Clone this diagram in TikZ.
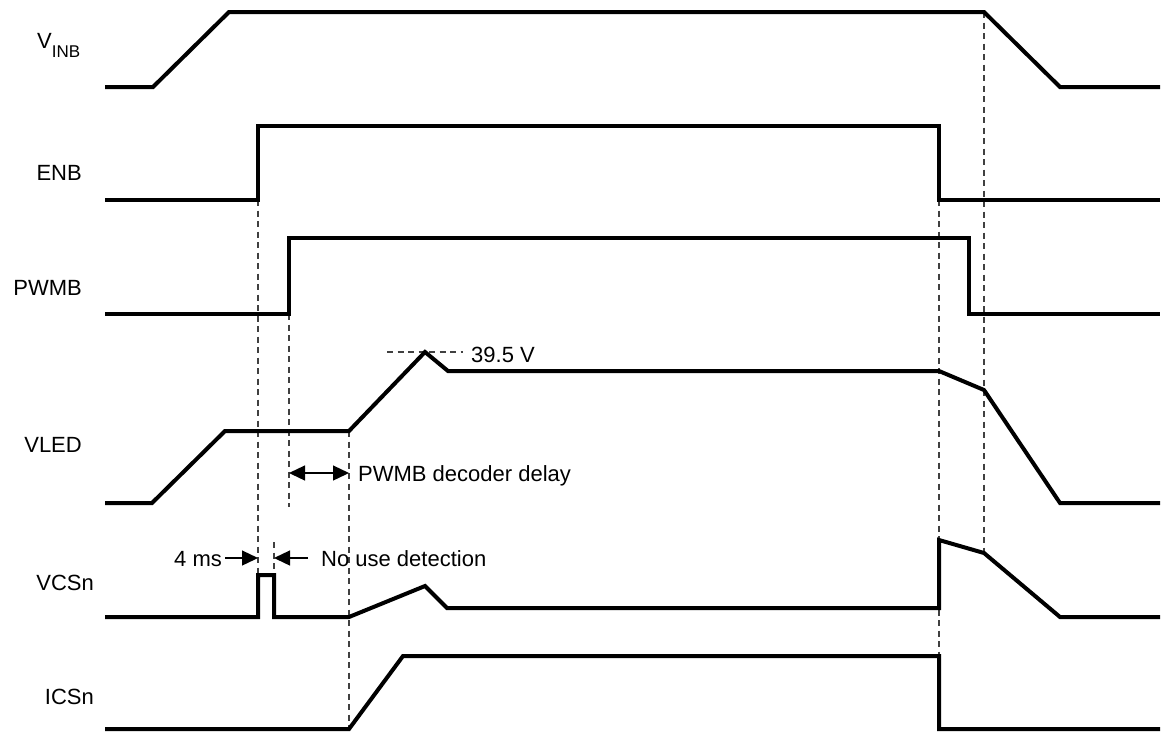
\documentclass[tikz,border=0pt]{standalone}
\usepackage{fontspec}
\setmainfont{Liberation Sans}
\usetikzlibrary{arrows.meta}
\begin{document}
\begin{tikzpicture}[x=1pt,y=-1pt,
  sig/.style={line width=4pt, line join=miter},
  guide/.style={line width=1.3pt, draw=black!75, dash pattern=on 6pt off 4.5pt},
  lbl/.style={inner sep=0pt, font=\fontsize{22}{26}\selectfont},
  dimr/.style={line width=1.3pt, -{Triangle[length=16pt,width=15pt]}},
  dimb/.style={line width=1.3pt, {Triangle[length=16pt,width=15pt]}-{Triangle[length=16pt,width=15pt]}}]
\useasboundingbox (0,0) rectangle (1161,732);

% labels
\node[lbl, anchor=base west] (lvinb) at (37,48) {V\raisebox{-9pt}{\fontsize{17}{17}\selectfont INB}};
\node[lbl, anchor=base east] (lenb) at (82,180) {ENB};
\node[lbl, anchor=base east] (lpwmb) at (82,295) {PWMB};
\node[lbl, anchor=base east] (lvled) at (82,452) {VLED};
\node[lbl, anchor=base east] (lvcs) at (94,590) {VCSn};
\node[lbl, anchor=base east] (lics) at (94,704) {ICSn};

% guides
\draw[guide] (258,200) -- (258,575);
\draw[guide] (274,542) -- (274,575);
\draw[guide] (289,314) -- (289,507);
\draw[guide] (349,431) -- (349,729);
\draw[guide] (939,200) -- (939,732);
\draw[guide] (984,12) -- (984,553);
\draw[guide] (387,352) -- (463,352);

% signals
\draw[sig] (105,87) -- (153,87) -- (229,12) -- (984,12) -- (1060,87) -- (1160,87);
\draw[sig] (105,200) -- (258,200) -- (258,126) -- (939,126) -- (939,200) -- (1160,200);
\draw[sig] (105,314) -- (289,314) -- (289,238) -- (969,238) -- (969,314) -- (1160,314);
\draw[sig] (105,503) -- (152,503) -- (225,431) -- (349,431) -- (425,352) -- (448,371) -- (939,371) -- (984,390) -- (1060,503) -- (1160,503);
\draw[sig] (105,617) -- (258,617) -- (258,575) -- (274,575) -- (274,617) -- (349,617) -- (425,586) -- (447,608) -- (939,608) -- (939,540) -- (984,553) -- (1060,617) -- (1160,617);
\draw[sig] (105,729) -- (349,729) -- (403,656) -- (939,656) -- (939,729) -- (1160,729);

% annotations
\node[lbl, anchor=base west] (v395) at (471,362) {39.5 V};
\coordinate (d1) at (289,473);
\coordinate (d2) at (349,473);
\draw[dimb] (d1) -- (d2);
\node[lbl, anchor=base west] (tdelay) at (358,481) {PWMB decoder delay};
\node[lbl, anchor=base west] (t4ms) at (174,566) {4 ms};
\coordinate (m1) at (225,558);
\coordinate (m2) at (258,558);
\draw[dimr] (m1) -- (m2);
\coordinate (n1) at (308,558);
\coordinate (n2) at (274,558);
\draw[dimr] (n1) -- (n2);
\node[lbl, anchor=base west] (tnouse) at (321,566) {No use detection};
\end{tikzpicture}
\end{document}
